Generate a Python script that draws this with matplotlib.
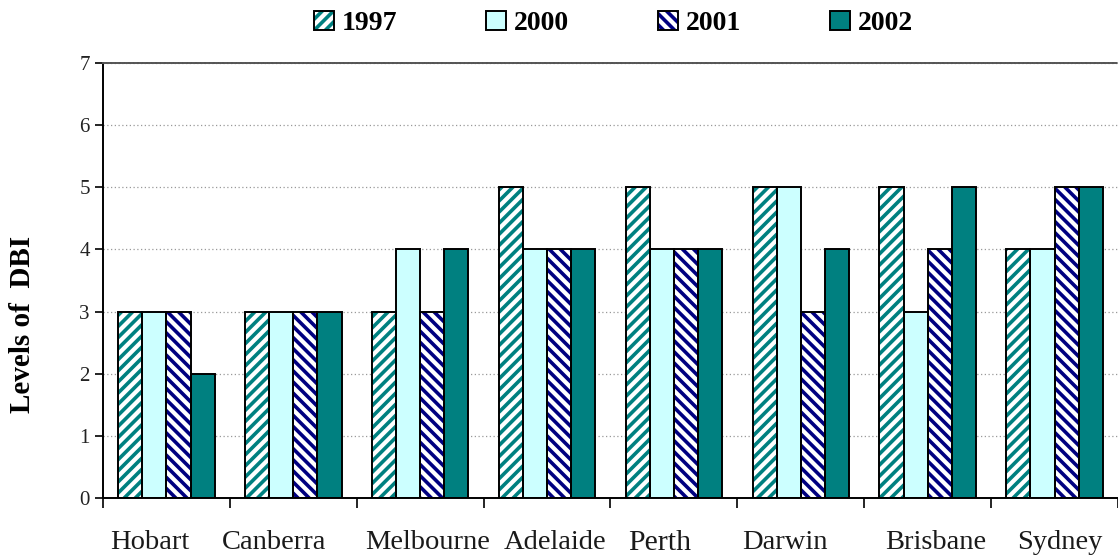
import matplotlib.pyplot as plt
import numpy as np
from matplotlib.patches import Patch
from matplotlib.legend_handler import HandlerTuple

plt.rcParams['font.family'] = ['Liberation Serif', 'DejaVu Serif']
plt.rcParams['hatch.linewidth'] = 2.6

# Data
cities = ['Hobart', 'Canberra', 'Melbourne', 'Adelaide', 'Perth', 'Darwin', 'Brisbane', 'Sydney']
years = ['1997', '2000', '2001', '2002']
dbi_1997 = [3, 3, 3, 5, 5, 5, 5, 4]
dbi_2000 = [3, 3, 4, 4, 4, 5, 3, 4]
dbi_2001 = [3, 3, 3, 4, 4, 3, 4, 5]
dbi_2002 = [2, 3, 4, 4, 4, 4, 5, 5]
series = [dbi_1997, dbi_2000, dbi_2001, dbi_2002]

# Bar styles per year
styles = [
    dict(facecolor='white', hatchcolor='#008080', hatch='///'),
    dict(facecolor='#CCFFFF', hatchcolor='#CCFFFF', hatch=None),
    dict(facecolor='white', hatchcolor='#000080', hatch='\\\\\\'),
    dict(facecolor='#008080', hatchcolor='#008080', hatch=None),
]

# label nudges (in category units) for the hand-placed city names
label_shift = [-0.13, -0.154, 0.06, 0.06, -0.114, -0.122, 0.067, 0.043]
label_size = [20.5, 20.5, 20.5, 20.5, 21.5, 20.5, 20.5, 20.5]
label_y = [-0.52, -0.52, -0.52, -0.52, -0.51, -0.52, -0.52, -0.52]

fig = plt.figure(figsize=(11.18, 5.55), dpi=100)
ax = fig.add_axes([0.0921, 0.1027, 0.9079, 0.7838])

x = np.arange(len(cities))
width = 0.19

for k, (vals, st) in enumerate(zip(series, styles)):
    offs = (k - 1.5) * width
    ax.bar(x + offs, vals, width, facecolor=st['facecolor'], hatch=st['hatch'],
           edgecolor=st['hatchcolor'], linewidth=0, zorder=2)
    ax.bar(x + offs, vals, width, facecolor='none', edgecolor='black',
           linewidth=1.4, zorder=3)

ax.set_xlim(-0.5, len(cities) - 0.5)
ax.set_ylim(0, 7)
ax.set_yticks(range(8))
ax.tick_params(axis='y', labelsize=15, length=6, width=1.2, direction='out',
               labelcolor='#222222')
ax.yaxis.grid(True, linestyle=(0, (1, 2)), color='#999999', linewidth=0.9, zorder=0)
ax.set_axisbelow(True)

# ticks between the city groups, names placed below
ax.set_xticks(np.arange(len(cities) + 1) - 0.5)
ax.set_xticklabels([])
ax.tick_params(axis='x', length=7, width=1.2, direction='out')
for i, name in enumerate(cities):
    ax.text(i + label_shift[i], label_y[i], name, ha='center', va='top',
            fontsize=label_size[i], color='#1a1a1a', clip_on=False)

ax.spines['right'].set_visible(False)
ax.spines['top'].set_linestyle((0, (1.5, 0.8)))
ax.spines['top'].set_color('#555555')
ax.spines['top'].set_linewidth(1.4)
ax.spines['left'].set_linewidth(1.4)
ax.spines['bottom'].set_linewidth(1.4)

ax.set_ylabel('Levels of  DBI', fontsize=21, fontweight='bold')
ax.yaxis.set_label_coords(-0.066, 0.40)

# legend swatches: coloured hatch underneath, black outline on top
handles = [(Patch(facecolor=st['facecolor'], hatch=st['hatch'],
                  edgecolor=st['hatchcolor'], linewidth=0),
            Patch(facecolor='none', edgecolor='black', linewidth=1.4))
           for st in styles]
leg = fig.legend(handles, years, loc='center', bbox_to_anchor=(0.549, 0.958), ncol=4,
                 frameon=False, prop={'weight': 'bold', 'size': 20},
                 handlelength=0.7, handleheight=0.7, handletextpad=0.3,
                 columnspacing=3.2,
                 handler_map={tuple: HandlerTuple(ndivide=1, pad=0)})

fig.savefig('out.png', dpi=100)
